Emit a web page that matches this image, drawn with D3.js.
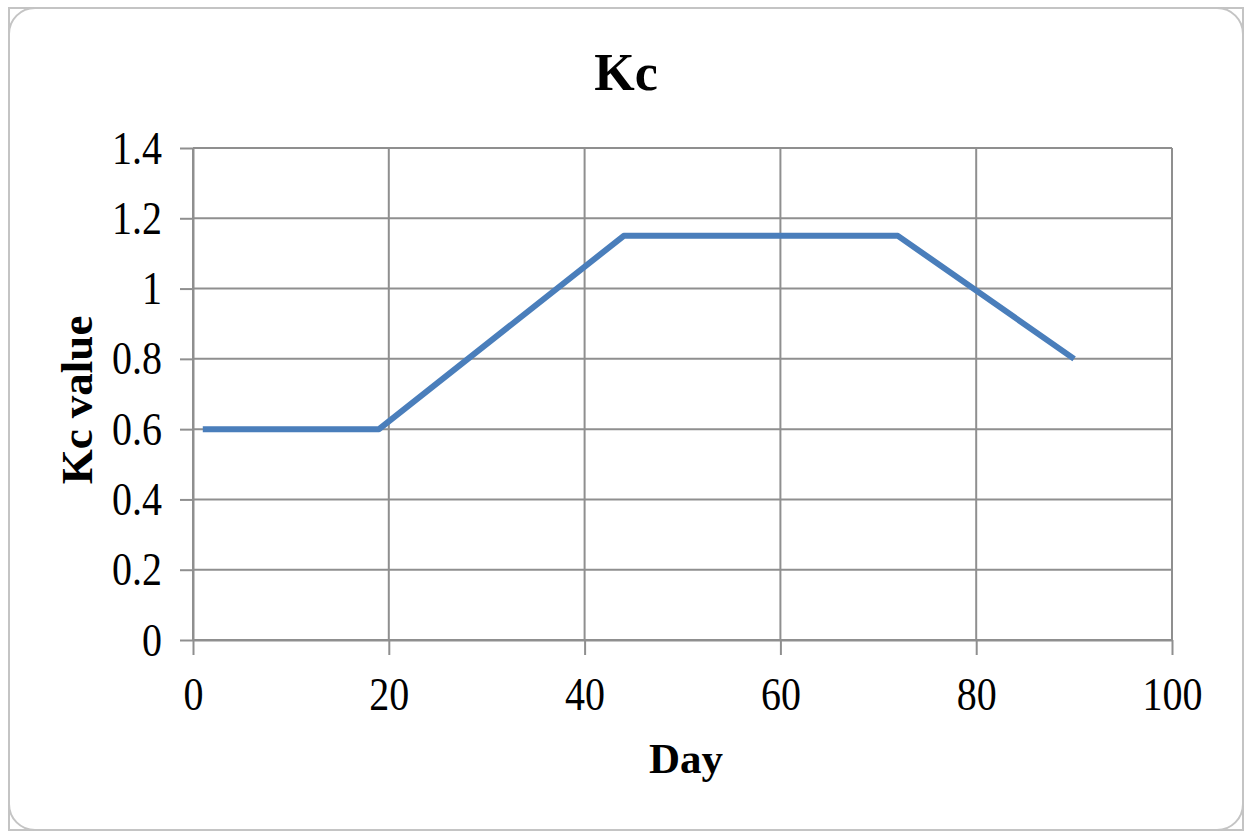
<!DOCTYPE html>
<html>
<head>
<meta charset="utf-8">
<script src="https://cdn.jsdelivr.net/npm/d3@7"></script>
<style>
  html, body { margin: 0; padding: 0; background: #ffffff; }
  svg { display: block; }
</style>
</head>
<body>
<svg id="chart" width="1249" height="831"></svg>
<script>
// Crop coefficient curve over the growing season
const days = [1, 19, 44, 72, 90];
const kcValues = [0.6, 0.6, 1.15, 1.15, 0.8];
const xTickValues = [0, 20, 40, 60, 80, 100];
const yTickValues = [0, 0.2, 0.4, 0.6, 0.8, 1.0, 1.2, 1.4];
const yTickLabels = ["0", "0.2", "0.4", "0.6", "0.8", "1", "1.2", "1.4"];

const svg = d3.select("#chart");
const font = "'Liberation Serif', 'Times New Roman', serif";
const gridColor = "#8f8f8f";

// Outer chart frame
svg.append("rect")
  .attr("x", 9).attr("y", 8).attr("width", 1234).attr("height", 822)
  .attr("fill", "#ffffff").attr("stroke", "#c4c4c4").attr("stroke-width", 2);
svg.append("rect")
  .attr("x", 9).attr("y", 8).attr("width", 1234).attr("height", 822)
  .attr("rx", 26).attr("ry", 26)
  .attr("fill", "#ffffff").attr("stroke", "#c4c4c4").attr("stroke-width", 2);

const plot = { left: 193, right: 1172, top: 148, bottom: 640 };

const x = d3.scaleLinear().domain([0, 100]).range([plot.left, plot.right]);
const y = d3.scaleLinear().domain([0, 1.4]).range([plot.bottom, plot.top]);

// Gridlines
const grid = svg.append("g").attr("stroke", gridColor).attr("stroke-width", 2);
grid.selectAll("line.h").data(yTickValues).join("line")
  .attr("class", "h")
  .attr("x1", plot.left).attr("x2", plot.right)
  .attr("y1", d => y(d)).attr("y2", d => y(d));
grid.selectAll("line.v").data(xTickValues).join("line")
  .attr("class", "v")
  .attr("y1", plot.top).attr("y2", plot.bottom)
  .attr("x1", d => x(d)).attr("x2", d => x(d));

// Axes
const tickFont = 40;
const tickStretch = 1.18;   // tick numerals are drawn slightly tall and narrow
const yAxis = d3.axisLeft(y)
  .tickValues(yTickValues)
  .tickFormat((d, i) => yTickLabels[i])
  .tickSize(13).tickSizeOuter(0).tickPadding(18);
const xAxis = d3.axisBottom(x)
  .tickValues(xTickValues)
  .tickFormat(d3.format("d"))
  .tickSize(15).tickSizeOuter(0).tickPadding(16);

const gy = svg.append("g").attr("transform", `translate(${plot.left},0)`).call(yAxis);
const gx = svg.append("g").attr("transform", `translate(0,${plot.bottom})`).call(xAxis);

[gx, gy].forEach(g => {
  g.select(".domain").attr("stroke", gridColor).attr("stroke-width", 2);
  g.selectAll(".tick line").attr("stroke", gridColor).attr("stroke-width", 2);
  g.selectAll(".tick text")
    .attr("fill", "#000")
    .attr("transform", `scale(1,${tickStretch})`)
    .style("font-family", font)
    .style("font-size", tickFont + "px");
});

// Kc line
const line = d3.line()
  .x((d, i) => x(days[i]))
  .y(d => y(d));
svg.append("path")
  .datum(kcValues)
  .attr("d", line)
  .attr("fill", "none")
  .attr("stroke", "#4a7ebb")
  .attr("stroke-width", 6)
  .attr("stroke-linejoin", "round")
  .attr("stroke-linecap", "butt");

// Titles
svg.append("text")
  .attr("x", 626).attr("y", 90)
  .attr("text-anchor", "middle")
  .style("font-family", font).style("font-weight", "bold").style("font-size", "52px")
  .text("Kc");

svg.append("text")
  .attr("x", 686).attr("y", 773)
  .attr("text-anchor", "middle")
  .style("font-family", font).style("font-weight", "bold").style("font-size", "43px")
  .text("Day");

svg.append("text")
  .attr("transform", "translate(92,400) rotate(-90)")
  .attr("text-anchor", "middle")
  .style("font-family", font).style("font-weight", "bold").style("font-size", "45px")
  .text("Kc value");
</script>
</body>
</html>
